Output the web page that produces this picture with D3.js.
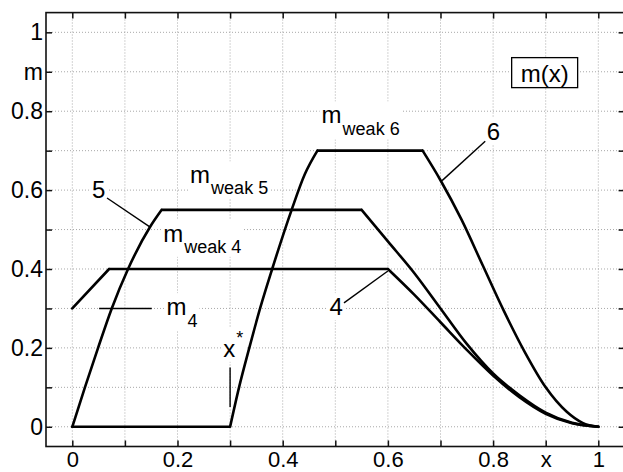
<!DOCTYPE html>
<html>
<head>
<meta charset="utf-8">
<script src="https://cdn.jsdelivr.net/npm/d3@7"></script>
<style>
  body { margin: 0; background: #fff; }
  text { font-family: "Liberation Sans", Arial, sans-serif; fill: #000; }
</style>
</head>
<body>
<div id="chart"></div>
<script>
// tick values and labels (0.9 carries the axis names)
const tickValues = [0, 0.1, 0.2, 0.3, 0.4, 0.5, 0.6, 0.7, 0.8, 0.9, 1];
const xTickLabels = ["0", "", "0.2", "", "0.4", "", "0.6", "", "0.8", "x", "1"];
const yTickLabels = ["0", "", "0.2", "", "0.4", "", "0.6", "", "0.8", "m", "1"];

// curve 4
const rise4X = [0, 0.07];
const rise4Y = [0.3, 0.4];
const fall4X = [0.6, 0.65, 0.7, 0.75, 0.8, 0.85, 0.9, 0.95, 1];
const fall4Y = [0.4, 0.335, 0.265, 0.195, 0.13, 0.075, 0.033, 0.009, 0];

// curve 5
const rise5X = [0, 0.024, 0.049, 0.075, 0.106, 0.148, 0.17];
const rise5Y = [0, 0.1, 0.2, 0.3, 0.4, 0.507, 0.55];
const fall5X = [0.55, 0.6, 0.65, 0.7, 0.75, 0.8, 0.85, 0.9, 0.95, 1];
const fall5Y = [0.55, 0.47, 0.39, 0.3, 0.21, 0.135, 0.08, 0.036, 0.01, 0];

// curve 6, zero up to x* = 0.3
const xStar = 0.3;
const rise6X = [0.3, 0.317, 0.3365, 0.357, 0.38, 0.417, 0.442, 0.466];
const rise6Y = [0, 0.1, 0.2, 0.3, 0.4, 0.55, 0.64, 0.7];
const fall6X = [0.666, 0.70, 0.74, 0.78, 0.82, 0.86, 0.90, 0.94, 0.97, 1];
const fall6Y = [0.7, 0.625, 0.525, 0.41, 0.295, 0.19, 0.10, 0.038, 0.01, 0];

const m4Level = 0.3;

const width = 623, height = 472;

const x = d3.scaleLinear().domain([-0.05, 1.05]).range([46, 624.6]);
const y = d3.scaleLinear().domain([-0.05, 1.05]).range([446.5, 12.6]);

const svg = d3.select("#chart").append("svg")
    .attr("width", width)
    .attr("height", height)
    .style("display", "block");

svg.append("rect").attr("width", width).attr("height", height).attr("fill", "#fff");

// grid
const grid = svg.append("g").attr("class", "grid")
    .attr("stroke", "#a8a8a8")
    .attr("stroke-width", 1)
    .attr("stroke-dasharray", "1,2");
grid.selectAll(".gx").data(tickValues).enter().append("line")
    .attr("x1", d => x(d)).attr("x2", d => x(d))
    .attr("y1", y.range()[0]).attr("y2", y.range()[1]);
grid.selectAll(".gy").data(tickValues).enter().append("line")
    .attr("y1", d => y(d)).attr("y2", d => y(d))
    .attr("x1", x.range()[0]).attr("x2", x.range()[1]);

// axes with inward ticks
const xAxis = d3.axisBottom(x).tickValues(tickValues).tickSize(-6).tickPadding(5)
    .tickFormat((d, i) => xTickLabels[i]);
const yAxis = d3.axisLeft(y).tickValues(tickValues).tickSize(-6).tickPadding(3)
    .tickFormat((d, i) => yTickLabels[i]);
const xAxisTop = d3.axisTop(x).tickValues(tickValues).tickSize(-6).tickFormat("");
const yAxisRight = d3.axisRight(y).tickValues(tickValues).tickSize(-6).tickFormat("");

function styleAxis(g, size) {
    g.select(".domain").remove();
    g.selectAll(".tick line").attr("stroke", "#111").attr("stroke-width", 1.5);
    g.selectAll(".tick text").attr("font-size", size)
        .attr("font-family", "Liberation Sans, Arial, sans-serif").attr("fill", "#000");
}

svg.append("g").attr("transform", "translate(0," + y.range()[0] + ")").call(xAxis).call(styleAxis, 22);
svg.append("g").attr("transform", "translate(" + x.range()[0] + ",0)").call(yAxis).call(styleAxis, 23);
svg.append("g").attr("transform", "translate(0," + y.range()[1] + ")").call(xAxisTop).call(styleAxis, 22);
svg.append("g").attr("transform", "translate(" + x.range()[1] + ",0)").call(yAxisRight).call(styleAxis, 22);

svg.append("rect")
    .attr("x", x.range()[0]).attr("y", y.range()[1])
    .attr("width", x.range()[1] - x.range()[0])
    .attr("height", y.range()[0] - y.range()[1])
    .attr("fill", "none").attr("stroke", "#111").attr("stroke-width", 1.6);

// annotations: text with white background
const notes = svg.append("g");
const bgLayer = notes.append("g");

function label(px, py, main, sub, subDy, subSize) {
    const t = notes.append("text")
        .attr("x", x(px)).attr("y", y(py))
        .attr("font-size", 24);
    t.append("tspan").text(main);
    if (sub) {
        t.append("tspan").text(sub)
            .attr("font-size", subSize || 18)
            .attr("dx", 1)
            .attr("dy", subDy);
    }
    const b = t.node().getBBox();
    bgLayer.append("rect")
        .attr("x", b.x - 2).attr("y", b.y)
        .attr("width", b.width + 4).attr("height", b.height)
        .attr("fill", "#fff");
    return t;
}

function leader(x1, y1, x2, y2) {
    notes.append("line")
        .attr("x1", x(x1)).attr("y1", y(y1))
        .attr("x2", x(x2)).attr("y2", y(y2))
        .attr("stroke", "#000").attr("stroke-width", 1.4);
}

label(0.474, 0.769, "m", "weak 6", 12);
label(0.224, 0.617, "m", "weak 5", 11);
label(0.173, 0.469, "m", "weak 4", 11);
label(0.0375, 0.58, "5");
label(0.489, 0.283, "4");
label(0.788, 0.727, "6");
label(0.179, 0.283, "m", "4", 12);
label(0.287, 0.1775, "x", "*", -13, 18);

leader(0.066, 0.58, 0.148, 0.506);
leader(0.5165, 0.314, 0.6, 0.395);
leader(0.785, 0.724, 0.703, 0.624);
leader(0.051, m4Level, 0.151, m4Level);
leader(xStar, 0.15, xStar, 0.05);

// boxed m(x)
const mx = notes.append("text")
    .attr("x", x(0.898)).attr("y", y(0.875))
    .attr("text-anchor", "middle")
    .attr("font-size", 24)
    .text("m(x)");
const mb = mx.node().getBBox();
bgLayer.append("rect")
    .attr("x", mb.x - 9).attr("y", mb.y - 2)
    .attr("width", mb.width + 18).attr("height", mb.height + 3)
    .attr("fill", "#fff").attr("stroke", "#000").attr("stroke-width", 1.3);

// curves
const zip = (xs, ys) => xs.map((v, i) => [v, ys[i]]);
const line = d3.line().x(d => x(d[0])).y(d => y(d[1])).curve(d3.curveMonotoneX);

const curves = [
    [zip(rise4X, rise4Y), [[rise4X[1], rise4Y[1]], [fall4X[0], fall4Y[0]]], zip(fall4X, fall4Y)],
    [zip(rise5X, rise5Y), [[rise5X[6], rise5Y[6]], [fall5X[0], fall5Y[0]]], zip(fall5X, fall5Y)],
    [[[0, 0], [xStar, 0]], zip(rise6X, rise6Y), [[rise6X[7], rise6Y[7]], [fall6X[0], fall6Y[0]]], zip(fall6X, fall6Y)]
];

svg.append("g").selectAll("path").data(curves).enter().append("path")
    .attr("d", segs => segs.map(s => line(s)).join(""))
    .attr("fill", "none")
    .attr("stroke", "#000")
    .attr("stroke-width", 2.6)
    .attr("stroke-linejoin", "round")
    .attr("stroke-linecap", "round");
</script>
</body>
</html>
